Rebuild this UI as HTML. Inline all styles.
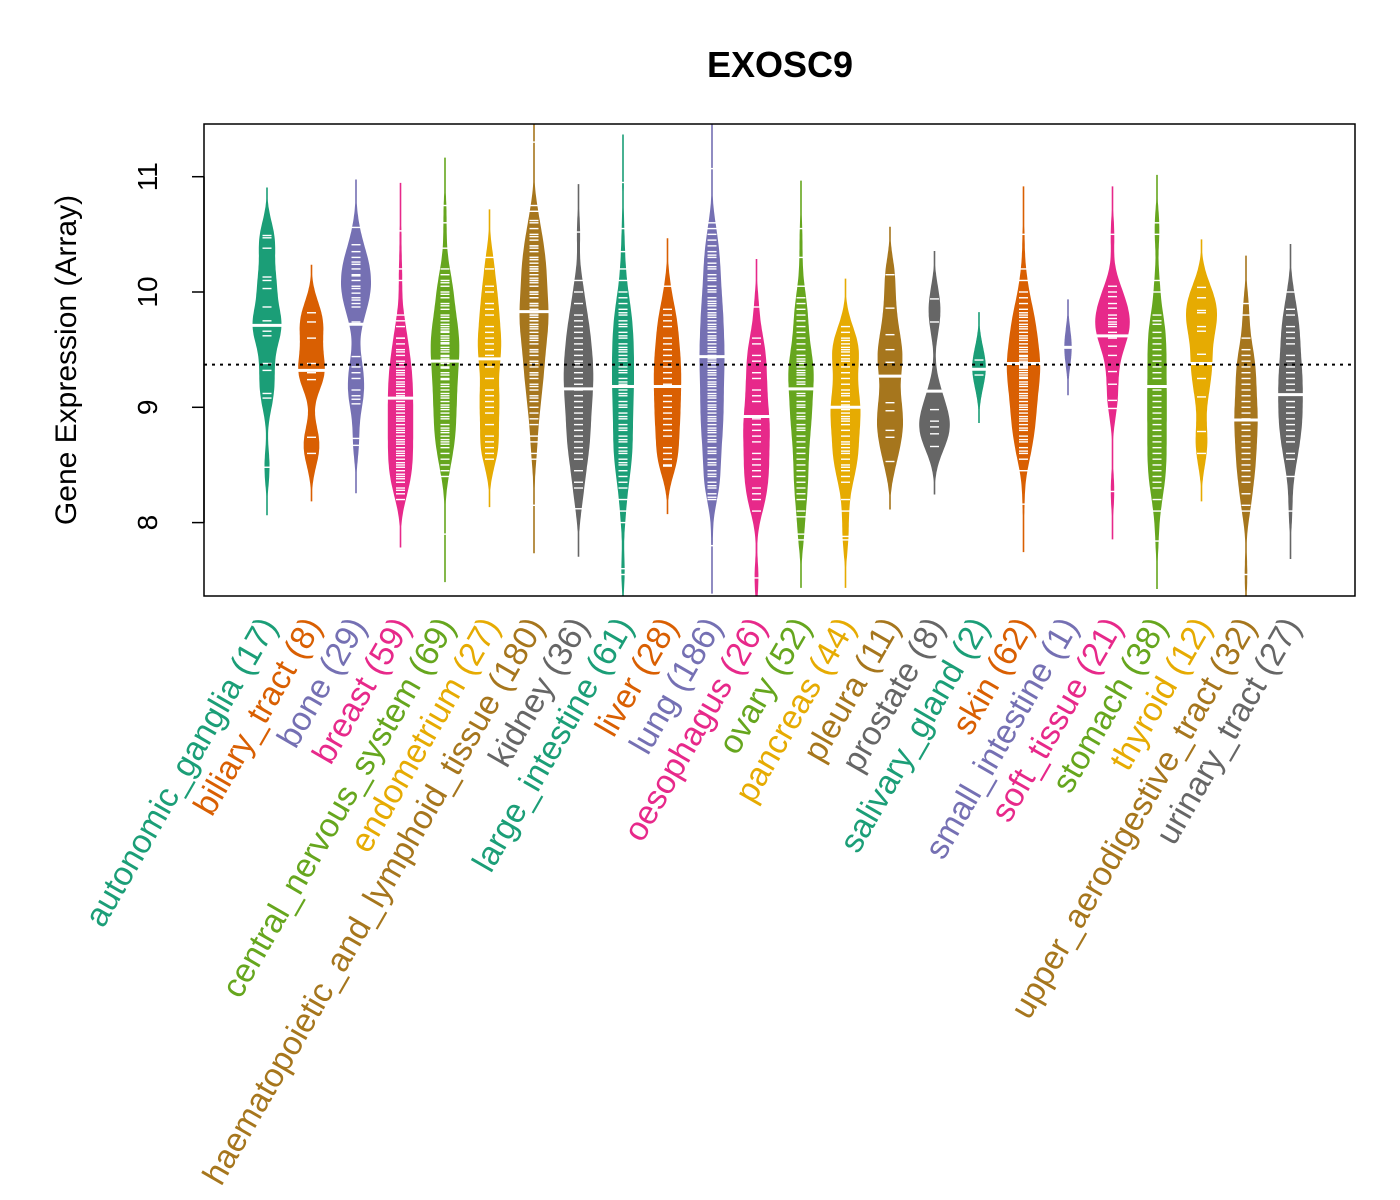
<!DOCTYPE html>
<html><head><meta charset="utf-8"><title>EXOSC9</title>
<style>html,body{margin:0;padding:0;background:#fff}svg{display:block}text{font-family:"Liberation Sans",Arial,sans-serif}</style>
</head><body>
<svg id="chart" width="1400" height="1200" viewBox="0 0 1400 1200" xmlns="http://www.w3.org/2000/svg">
<text x="780" y="77" text-anchor="middle" font-size="36" font-weight="bold">EXOSC9</text>
<text transform="translate(76,360) rotate(-90)" text-anchor="middle" font-size="30">Gene Expression (Array)</text>
<g id="marks"></g>
<rect x="204" y="124" width="1151" height="472" fill="none" stroke="#000" stroke-width="1.5"/>
<g id="axes"></g>
</svg>
<script>
const categories=["autonomic_ganglia","biliary_tract","bone","breast","central_nervous_system","endometrium","haematopoietic_and_lymphoid_tissue","kidney","large_intestine","liver","lung","oesophagus","ovary","pancreas","pleura","prostate","salivary_gland","skin","small_intestine","soft_tissue","stomach","thyroid","upper_aerodigestive_tract","urinary_tract"];
const counts=[17,8,29,59,69,27,180,36,61,28,186,26,52,44,11,8,2,62,1,21,38,12,32,27];
const medians=[9.71,9.32,9.72,9.08,9.40,9.42,9.83,9.16,9.18,9.18,9.44,8.92,9.16,9.00,9.27,9.14,9.33,9.38,9.52,9.62,9.18,9.38,8.89,9.11];
const maxHalfWidths=[14.5,13.3,15,12.7,14.3,11.7,14.5,14.8,11,13.7,12.5,13.3,12.7,15,13,15.3,6.8,16.7,3.7,17.3,9.8,15.5,11.7,12.3];
const overallMedian=9.37;
const yTicks=[8,9,10,11];
const s0=[10.49,10.47,10.38,10.13,10.10,10.03,9.87,9.75,9.71,9.66,9.62,9.38,9.32,9.12,9.08,8.48,9.71];
const s1=[9.82,9.74,9.60,9.38,9.30,9.24,8.74,8.60];
const s2=[10.56,10.41,10.35,10.26,10.24,10.14,10.10,10.03,9.99,9.93,9.87,9.74,9.72,9.44,9.30,9.25,9.15,9.07,9.03,8.73,8.67,10.2,10.05,9.95,10.15,9.35,9.1,10.3,9.9];
const s3=[10.53,10.2,10.1,9.8,9.75,9.6,9.55,9.5,9.45,9.4,9.35,9.3,9.25,9.2,9.15,9.1,9.08,9.05,9.0,8.95,8.9,8.85,8.8,8.75,8.7,8.65,8.6,8.55,8.5,8.45,8.4,8.35,8.3,8.25,8.2,9.48,9.38,9.28,9.18,9.02,8.92,8.82,8.72,8.62,8.52,8.42,9.6,8.88,8.78,8.68,8.58,9.12,9.22,9.32,8.98,8.48,8.38,9.7,8.28];
const s4=[10.75,10.6,10.38,10.2,10.15,10.1,10.05,10.0,9.95,9.9,9.85,9.8,9.75,9.72,9.7,9.68,9.65,9.6,9.58,9.55,9.5,9.48,9.45,9.42,9.4,9.35,9.3,9.25,9.2,9.15,9.12,9.1,9.05,9.0,8.98,8.95,8.9,8.85,8.8,8.78,8.75,8.72,8.7,8.65,8.6,8.55,8.5,8.45,8.4,7.9,9.62,9.52,9.38,9.28,9.18,9.08,8.92,8.82,8.68,9.78,9.88,9.98,10.08,9.66,9.56,9.44,9.34,9.24,9.02];
const s5=[10.3,10.2,10.0,9.9,9.8,9.7,9.65,9.55,9.5,9.45,9.42,9.25,9.15,9.05,8.95,8.85,8.75,8.6,8.55,8.7,9.0,9.35,9.6,9.85,10.05,8.65,9.1];
const s6=[11.3,10.75,10.7,10.6,10.55,10.5,10.45,10.4,10.4,10.35,10.3,10.3,10.25,10.2,10.2,10.15,10.1,10.1,10.05,10.0,10.0,9.95,9.9,9.9,9.85,9.85,9.8,9.8,9.75,9.75,9.7,9.7,9.65,9.6,9.6,9.55,9.5,9.5,9.45,9.4,9.4,9.35,9.3,9.3,9.25,9.2,9.15,9.1,9.05,9.0,8.95,8.9,8.85,8.75,8.7,8.6,8.55,8.15,10.62,10.48,10.38,10.28,10.18,10.08,9.98,9.88,9.78,9.68,9.58,9.48,9.38,9.28,9.18,9.08,9.95,9.82,9.72,9.62,10.12,10.22];
const s7=[10.52,10.1,10.0,9.9,9.8,9.75,9.7,9.6,9.5,9.45,9.4,9.35,9.3,9.25,9.2,9.16,9.1,9.05,9.0,8.95,8.9,8.85,8.8,8.75,8.7,8.6,8.55,8.45,8.35,8.3,8.12,9.55,9.65,9.15,8.65,9.38];
const s8=[10.95,10.55,10.35,10.2,10.1,10.0,9.95,9.9,9.85,9.8,9.75,9.7,9.65,9.6,9.55,9.5,9.45,9.4,9.35,9.3,9.25,9.2,9.18,9.15,9.1,9.05,9.0,8.95,8.9,8.85,8.8,8.75,8.7,8.65,8.6,8.55,8.5,8.45,8.4,8.35,8.3,8.2,8.1,8.0,7.6,7.55,9.52,9.42,9.32,9.22,9.12,9.02,8.92,8.82,8.72,9.62,9.72,9.82,8.62,8.52,9.48];
const s9=[10.05,9.85,9.8,9.75,9.7,9.55,9.5,9.45,9.4,9.3,9.25,9.18,9.1,9.0,8.95,8.9,8.8,8.75,8.6,8.55,8.5,8.49,9.6,9.35,9.05,8.85,9.2,8.65];
const s10=[11.07,10.6,10.55,10.5,10.45,10.4,10.35,10.3,10.25,10.2,10.15,10.1,10.05,10.0,9.95,9.9,9.85,9.8,9.75,9.7,9.65,9.6,9.55,9.5,9.45,9.44,9.4,9.35,9.3,9.25,9.2,9.15,9.1,9.05,9.0,8.95,8.9,8.85,8.8,8.75,8.7,8.65,8.6,8.55,8.5,8.45,8.4,8.35,8.3,8.25,8.2,7.8,10.32,10.22,10.12,10.02,9.92,9.82,9.72,9.62,9.52,9.42,9.32,9.22,9.12,9.02,8.92,8.82,8.72,8.62,8.52,8.42,8.32,8.22,9.88,9.78,9.68,9.58,9.48,9.38,9.28,9.18,9.08,8.98,8.88,8.78];
const s11=[9.87,9.6,9.55,9.4,9.3,9.25,9.1,9.05,8.92,8.9,8.85,8.8,8.7,8.6,8.55,8.45,8.4,8.3,8.2,8.1,7.52,9.45,9.15,8.75,8.5,8.25];
const s12=[10.55,10.3,10.05,9.95,9.85,9.8,9.7,9.6,9.55,9.5,9.45,9.4,9.35,9.3,9.25,9.2,9.16,9.1,9.05,9.0,8.95,8.9,8.85,8.8,8.75,8.7,8.6,8.55,8.5,8.45,8.4,8.3,8.2,8.1,7.85,7.9,8.05,9.65,9.42,9.32,9.22,9.12,9.02,8.92,8.82,8.65,9.75,9.9,8.35,8.25,9.38,9.28];
const s13=[9.7,9.65,9.6,9.55,9.5,9.45,9.4,9.3,9.2,9.1,9.05,9.0,8.98,8.95,8.9,8.85,8.75,8.7,8.65,8.6,8.55,8.5,8.45,8.4,8.35,8.2,8.1,7.85,7.88,9.35,9.25,9.15,8.92,8.8,9.48,9.58,8.62,8.48,9.02,9.12,8.88,8.68,9.52,9.42];
const s14=[10.15,9.86,9.63,9.5,9.39,9.27,9.04,8.97,8.8,8.74,8.53];
const s15=[9.94,9.74,9.14,8.98,8.88,8.83,8.77,8.66];
const s16=[9.41,9.28];
const s17=[10.5,10.2,10.1,10.0,9.95,9.9,9.85,9.8,9.75,9.7,9.65,9.6,9.55,9.5,9.45,9.42,9.4,9.38,9.35,9.3,9.25,9.2,9.15,9.1,9.05,9.0,8.95,8.9,8.85,8.8,8.75,8.7,8.65,8.6,8.55,8.45,8.16,9.62,9.52,9.48,9.32,9.22,9.12,9.02,8.92,8.82,8.72,9.72,9.82,9.36,9.28,9.18,9.08,8.98,8.88,9.58,9.44,9.34,9.26,8.62,9.68,9.78];
const s18=[9.52];
const s19=[10.5,10.05,9.96,9.86,9.8,9.77,9.74,9.7,9.65,9.62,9.53,9.31,9.06,8.99,8.27,9.9,9.6,9.72,10.0,9.45,9.2];
const s20=[10.6,10.5,10.1,10.0,9.8,9.75,9.72,9.6,9.55,9.45,9.35,9.3,9.18,9.1,9.0,8.95,8.85,8.8,8.75,8.7,8.6,8.5,8.45,8.35,8.3,8.2,8.1,7.84,9.5,9.25,9.05,8.9,8.65,8.4,9.4,9.15,8.55,9.65];
const s21=[10.04,9.95,9.84,9.82,9.7,9.66,9.46,9.38,9.25,9.09,8.79,8.6];
const s22=[9.9,9.8,9.6,9.5,9.45,9.4,9.35,9.25,9.15,9.1,9.05,9.0,8.95,8.9,8.85,8.8,8.75,8.7,8.6,8.5,8.45,8.4,8.35,8.25,8.15,8.1,7.55,8.65,8.55,9.2,9.3,8.89];
const s23=[10.0,9.85,9.8,9.7,9.65,9.6,9.45,9.4,9.35,9.3,9.2,9.11,9.05,9.0,8.95,8.9,8.85,8.75,8.7,8.55,8.4,8.1,9.15,9.55,8.6,8.8,9.25];
const samples=[s0,s1,s2,s3,s4,s5,s6,s7,s8,s9,s10,s11,s12,s13,s14,s15,s16,s17,s18,s19,s20,s21,s22,s23];
const palette=["#1B9E77","#D95F02","#7570B3","#E7298A","#66A61E","#E6AB02","#A6761D","#666666"];

const NS="http://www.w3.org/2000/svg";
const X0=204,X1=1355,Y0=124,Y1=596;
const yScale=v=>292-(v-10)*115.3;
const xScale=i=>267+i*((1290.5-267)/23);
function mk(tag,attrs,parent){const e=document.createElementNS(NS,tag);for(const k in attrs)e.setAttribute(k,attrs[k]);parent.appendChild(e);return e;}
const marks=document.getElementById('marks');
const axes=document.getElementById('axes');
const clip=mk('clipPath',{id:'pc'},marks);
mk('rect',{x:X0,y:Y0,width:X1-X0,height:Y1-Y0},clip);
const plot=mk('g',{'clip-path':'url(#pc)'},marks);
const bw=0.16;
categories.forEach((c,i)=>{
  const col=palette[i%8],cx=xScale(i),d=samples[i];
  const lo=Math.min(...d)-2.6*bw,hi=Math.max(...d)+2.6*bw;
  const n=120,vals=[],dens=[];
  for(let k=0;k<=n;k++){const v=lo+(hi-lo)*k/n;let s=0;d.forEach(p=>{const z=(v-p)/bw;s+=Math.exp(-0.5*z*z);});vals.push(v);dens.push(s);}
  const mx=Math.max(...dens);
  let left=[],right=[];
  vals.forEach((v,k)=>{const w=Math.max(0.8,dens[k]/mx*maxHalfWidths[i]);const y=yScale(v);right.push((cx+w).toFixed(1)+','+y.toFixed(1));left.unshift((cx-w).toFixed(1)+','+y.toFixed(1));});
  const bean=mk('polygon',{points:right.concat(left).join(' '),fill:col,stroke:'none'},plot);
  
  
  d.forEach(p=>{const y=yScale(p);const l=mk('line',{x1:cx-4.5,x2:cx+4.5,y1:y,y2:y,stroke:'#fff','stroke-width':1.4},plot);
    
    });
  const my=yScale(medians[i]);
  const m=mk('line',{x1:cx-maxHalfWidths[i]-1,x2:cx+maxHalfWidths[i]+1,y1:my,y2:my,stroke:'#fff','stroke-width':3},plot);
  
  
  const t=mk('text',{transform:`translate(${cx+1},${620}) rotate(-60)`,'text-anchor':'end',fill:col,'font-size':33.5,dy:'0.35em'},axes);
  t.textContent=c+' ('+counts[i]+')';
  
  
});
const ol=mk('line',{x1:X0,x2:X1,y1:yScale(overallMedian),y2:yScale(overallMedian),stroke:'#000','stroke-width':2,'stroke-dasharray':'3,5'},plot);


const ax=mk('line',{x1:X0,x2:X0,y1:yScale(11),y2:yScale(8),stroke:'#000','stroke-width':1.5},axes);


yTicks.forEach(v=>{const y=yScale(v);
  const tk=mk('line',{x1:X0-12,x2:X0,y1:y,y2:y,stroke:'#000','stroke-width':1.5},axes);
  
  
  const tl=mk('text',{transform:`translate(157,${y}) rotate(-90)`,'text-anchor':'middle','font-size':28},axes);
  tl.textContent=v;
  
  
});
</script>
</body></html>
